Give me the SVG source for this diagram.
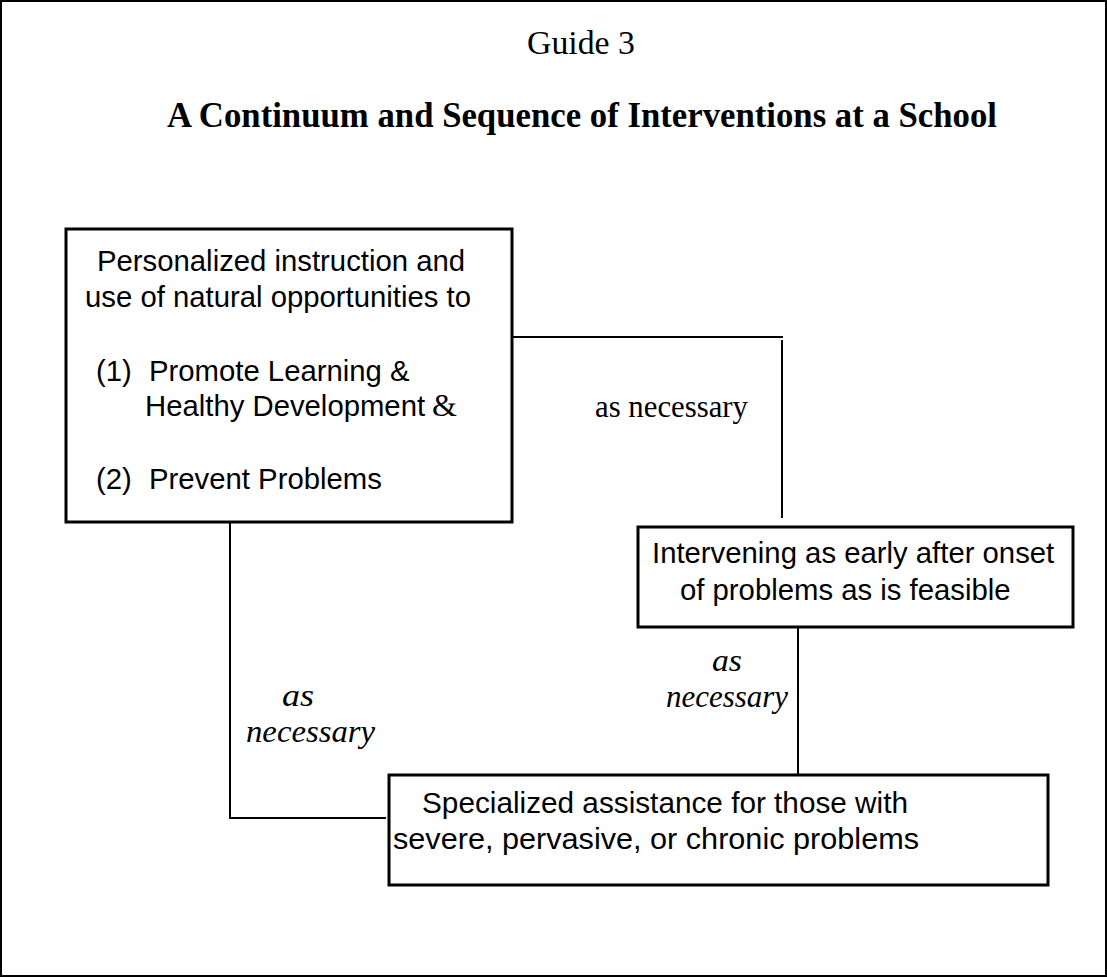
<svg xmlns="http://www.w3.org/2000/svg" width="1107" height="977" viewBox="0 0 1107 977">
<style>
.box{fill:#fff;stroke:#000;stroke-width:3}
.sans{font-family:"Liberation Sans",Arial,sans-serif;font-size:29.3px;fill:#000}
.serif{font-family:"Liberation Serif","Times New Roman",serif;fill:#000}
.it{font-style:italic;font-size:32px}
.conn{fill:none;stroke:#000;stroke-width:2}
</style>
<rect x="0" y="0" width="1107" height="977" fill="#fff"/>
<rect x="1" y="1" width="1105" height="975" fill="none" stroke="#000" stroke-width="2"/>
<g id="title">
<text class="serif" x="527" y="54" font-size="33" textLength="108" lengthAdjust="spacingAndGlyphs">Guide 3</text>
<text class="serif" x="167" y="127" font-size="35" font-weight="bold" textLength="830" lengthAdjust="spacingAndGlyphs">A Continuum and Sequence of Interventions at a School</text>
</g>
<g id="connectors">
<path class="conn" d="M508,337 H783 M782,340 V518"/>
<path class="conn" d="M798,626 V774"/>
<path class="conn" d="M230,519 V818 H386"/>
<text class="serif" x="595" y="417" font-size="32" textLength="153" lengthAdjust="spacingAndGlyphs">as necessary</text>
<text class="serif it" x="712" y="671" textLength="30" lengthAdjust="spacingAndGlyphs">as</text>
<text class="serif it" x="666" y="707" textLength="122" lengthAdjust="spacingAndGlyphs">necessary</text>
<text class="serif it" x="282" y="706" textLength="32" lengthAdjust="spacingAndGlyphs">as</text>
<text class="serif it" x="246" y="742" textLength="129" lengthAdjust="spacingAndGlyphs">necessary</text>
</g>
<g id="node-personalized">
<rect class="box" x="66" y="229" width="446" height="293"/>
<text class="sans" x="97" y="271">Personalized instruction and</text>
<text class="sans" x="85" y="307">use of natural opportunities to</text>
<text class="sans" y="381"><tspan x="96">(1)</tspan><tspan x="149">Promote Learning &amp;</tspan></text>
<text class="sans" y="416"><tspan x="145">Healthy Development</tspan><tspan class="serif" x="432" font-size="32">&amp;</tspan></text>
<text class="sans" y="489"><tspan x="96">(2)</tspan><tspan x="149">Prevent Problems</tspan></text>
</g>
<g id="node-intervening">
<rect class="box" x="638" y="527" width="435" height="100"/>
<text class="sans" x="652" y="563">Intervening as early after onset</text>
<text class="sans" x="680" y="600">of problems as is feasible</text>
</g>
<g id="node-specialized">
<rect class="box" x="389" y="775" width="659" height="110"/>
<text class="sans" x="422" y="813" textLength="486" lengthAdjust="spacingAndGlyphs">Specialized assistance for those with</text>
<text class="sans" x="393" y="849" textLength="526" lengthAdjust="spacingAndGlyphs">severe, pervasive, or chronic problems</text>
</g>
</svg>
